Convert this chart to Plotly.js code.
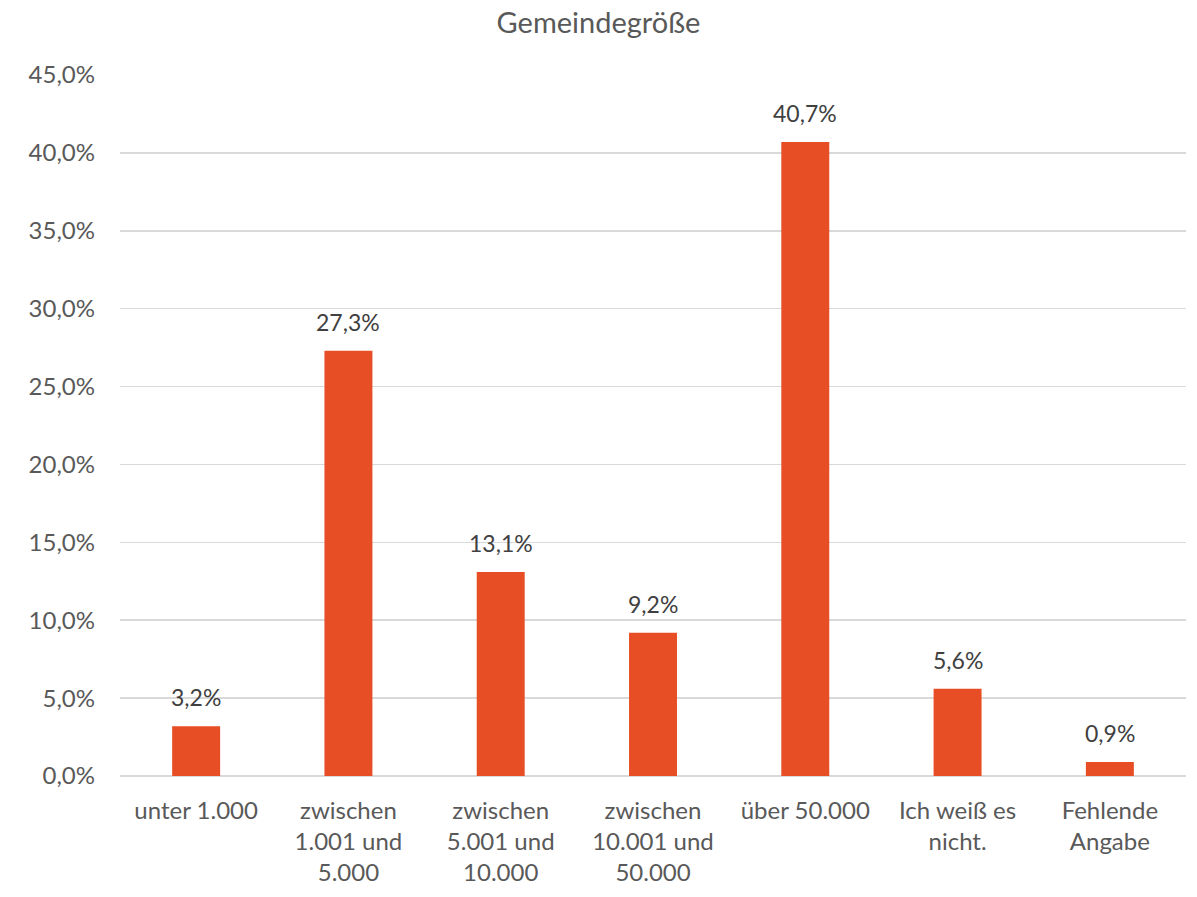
<!DOCTYPE html>
<html>
<head>
<meta charset="utf-8">
<script src="https://cdn.plot.ly/plotly-3.0.1.min.js"></script>
<style>html,body{margin:0;padding:0;background:#fff;}#chart{width:1197px;height:897px;}</style>
</head>
<body>
<div id="chart"></div>
<script>
const categories = ["unter 1.000", "zwischen<br>1.001 und<br>5.000", "zwischen<br>5.001 und<br>10.000", "zwischen<br>10.001 und<br>50.000", "über 50.000", "Ich weiß es<br>nicht.", "Fehlende<br>Angabe"];
const values = [3.2, 27.3, 13.1, 9.2, 40.7, 5.6, 0.9];
const yTicks = [0, 5, 10, 15, 20, 25, 30, 35, 40, 45];
const yTickText = ["0,0%", "5,0%", "10,0%", "15,0%", "20,0%", "25,0%", "30,0%", "35,0%", "40,0%", "45,0%"];

const font = "Lato, 'Open Sans', sans-serif";
const grey = "#595959";

const labels = categories.map((c, i) => ({
  x: c, y: values[i], xref: "x", yref: "y",
  text: values[i].toFixed(1).replace(".", ",") + "%",
  showarrow: false, yanchor: "bottom", yshift: 13,
  font: {family: font, size: 23, color: "#404040"}
}));

Plotly.newPlot("chart", [{
  type: "bar",
  x: categories,
  y: values,
  marker: {color: "#E84E25"},
  hoverinfo: "none"
}], {
  width: 1197, height: 897,
  separators: ",.",
  margin: {l: 120, r: 11, t: 75, b: 121},
  paper_bgcolor: "#fff", plot_bgcolor: "#fff",
  bargap: 0.685,
  showlegend: false,
  font: {family: font, color: grey, size: 22},
  title: {text: "Gemeindegröße", x: 0.5, xanchor: "center", y: 0.975, yanchor: "middle", font: {family: font, size: 29, color: grey}},
  annotations: labels,
  xaxis: {type: "category", tickfont: {family: font, size: 24, color: grey}, showgrid: false, ticks: "", zeroline: false, showline: false, automargin: false, ticklabelstandoff: 18},
  yaxis: {range: [0, 45], tickmode: "array", tickvals: yTicks, ticktext: yTickText, tickfont: {family: font, size: 24, color: grey}, gridcolor: "#D9D9D9", gridwidth: 1.5, zeroline: true, zerolinecolor: "#D9D9D9", zerolinewidth: 1.5, ticks: "", ticklabelstandoff: 24, automargin: false, fixedrange: true}
}, {displayModeBar: false, staticPlot: true});
</script>
</body>
</html>
